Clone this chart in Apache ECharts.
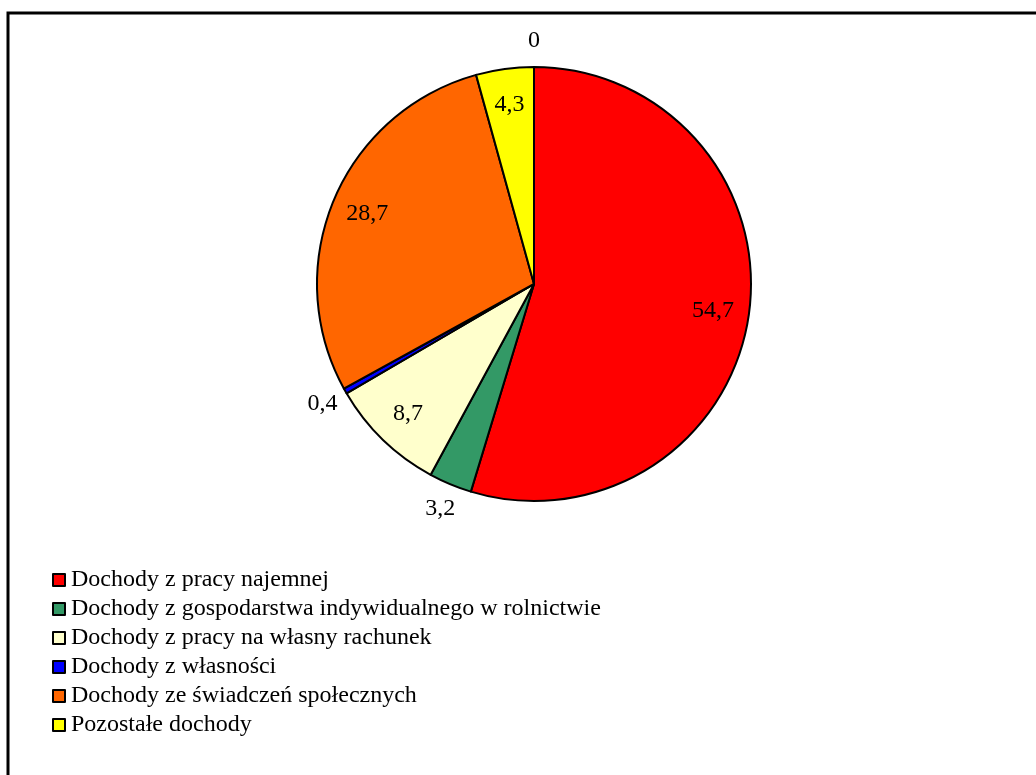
<!DOCTYPE html>
<html>
<head>
<meta charset="utf-8">
<script src="https://cdn.jsdelivr.net/npm/echarts@6/dist/echarts.min.js"></script>
<style>
html,body{margin:0;padding:0;background:#fff;}
#chart{width:1036px;height:775px;}
</style>
</head>
<body>
<div id="chart"></div>
<script>
const categories = [
  'Dochody z pracy najemnej',
  'Dochody z gospodarstwa indywidualnego w rolnictwie',
  'Dochody z pracy na własny rachunek',
  'Dochody z własności',
  'Dochody ze świadczeń społecznych',
  'Pozostałe dochody'
];
const values = [54.7, 3.2, 8.7, 0.4, 28.7, 4.3];
// trailing zero-value entry whose label "0" sits at the top of the pie
const extraValue = 0;
const colors = ['#FF0000', '#339966', '#FFFFCC', '#0000FF', '#FF6600', '#FFFF00'];
const outsideLabelIdx = [1, 3, 6];

const FONT = '"Liberation Serif", "Times New Roman", serif';
const fmt = v => String(v).replace('.', ',');
const CX = 534, CY = 284, R = 217;

const allValues = values.concat([extraValue]);

const mainData = categories.map((c, i) => ({
  name: c, value: values[i], itemStyle: { color: colors[i] }
}));

function overlayData(showFn) {
  return allValues.map((v, i) => ({
    name: i < categories.length ? categories[i] : '',
    value: v,
    label: { show: showFn(i) }
  }));
}

const chart = echarts.init(document.getElementById('chart'), null, { renderer: 'canvas' });
chart.setOption({
  backgroundColor: '#fff',
  animation: false,
  graphic: [{
    type: 'rect', silent: true,
    shape: { x: 8, y: 13, width: 1200, height: 900 },
    style: { fill: 'none', stroke: '#000', lineWidth: 3 }
  }],
  legend: {
    data: categories,
    orient: 'vertical',
    left: 52, top: 568, padding: 0,
    itemWidth: 12, itemHeight: 12, itemGap: 5,
    icon: 'rect',
    selectedMode: false,
    itemStyle: { borderColor: '#000', borderWidth: 2 },
    textStyle: { fontFamily: FONT, fontSize: 24, color: '#000', lineHeight: 24, padding: [0, 0, 0, 1] }
  },
  series: [
    {
      type: 'pie', center: [CX, CY], radius: R, startAngle: 90, clockwise: true,
      silent: true,
      itemStyle: { borderColor: '#000', borderWidth: 2 },
      label: { show: false }, labelLine: { show: false },
      data: mainData
    },
    {
      type: 'pie', center: [CX, CY], radius: [139, R], startAngle: 90, clockwise: true,
      silent: true, legendHoverLink: false,
      itemStyle: { color: 'rgba(0,0,0,0)', borderWidth: 0 },
      label: { position: 'inside', formatter: p => fmt(p.value), fontFamily: FONT, fontSize: 24, color: '#000' },
      labelLine: { show: false },
      data: overlayData(i => i < values.length && outsideLabelIdx.indexOf(i) < 0)
    },
    {
      type: 'pie', center: [CX, CY], radius: [R, R + 46], startAngle: 90, clockwise: true,
      silent: true, legendHoverLink: false, stillShowZeroSum: true,
      itemStyle: { color: 'rgba(0,0,0,0)', borderWidth: 0 },
      label: { position: 'inside', formatter: p => fmt(p.value), fontFamily: FONT, fontSize: 24, color: '#000' },
      labelLine: { show: false },
      data: overlayData(i => outsideLabelIdx.indexOf(i) >= 0)
    }
  ]
});
</script>
</body>
</html>
